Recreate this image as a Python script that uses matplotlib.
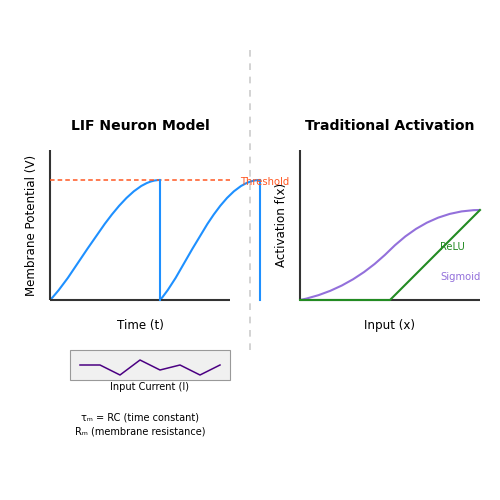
import matplotlib
matplotlib.use("Agg")
import matplotlib.pyplot as plt
from matplotlib.path import Path
from matplotlib.patches import PathPatch, Rectangle

# diagram coordinates (svg-like, y grows downward)
lif_curve1 = [(50, 300), (80, 270), (120, 180), (160, 180)]
lif_curve2 = [(160, 300), (187, 270), (218, 180), (260, 180)]
lif_resets = [(160, 180, 300), (260, 180, 300)]  # x, y_top, y_bottom
threshold_y = 180
threshold_x = [50, 230]

sigmoid_curve = [(300, 300), (350, 290), (390, 250), (430, 210), (480, 210)]
relu_x = [300, 390, 480]
relu_y = [300, 300, 210]

current_x = [80, 100, 120, 140, 160, 180, 200, 220]
current_y = [365, 365, 375, 360, 370, 365, 375, 365]

CUBIC = [Path.MOVETO, Path.CURVE4, Path.CURVE4, Path.CURVE4]
QUAD = [Path.MOVETO, Path.CURVE3, Path.CURVE3, Path.CURVE3, Path.CURVE3]

fig = plt.figure(figsize=(5, 5), dpi=100)
ax = fig.add_axes([0, 0, 1, 1])
ax.set_xlim(0, 500)
ax.set_ylim(500, 0)
ax.axis("off")

axis_col = "#333333"
blue = "#1E90FF"
orange = "#FF5722"
purple = "#9370DB"
green = "#228B22"

# ---- LIF panel
ax.text(140, 126, "LIF Neuron Model", ha="center", va="center", fontsize=10.1, fontweight="bold")
ax.plot([50, 50], [150, 300], color=axis_col, lw=1.5, solid_capstyle="butt")
ax.plot([50, 230], [300, 300], color=axis_col, lw=1.5, solid_capstyle="butt")
ax.plot(threshold_x, [threshold_y] * 2, color=orange, lw=1.1, dashes=(3, 2))
ax.text(240, 182, "Threshold", color=orange, fontsize=7.2, ha="left", va="center")

for pts in (lif_curve1, lif_curve2):
    ax.add_patch(PathPatch(Path(pts, CUBIC), fill=False, edgecolor=blue, lw=1.5))
for x, y0, y1 in lif_resets:
    ax.plot([x, x], [y0, y1], color=blue, lw=1.5)

ax.text(32, 225, "Membrane Potential (V)", rotation=90, ha="center", va="center", fontsize=8.6)
ax.text(140, 326, "Time (t)", ha="center", va="center", fontsize=8.6)

# input current box
ax.add_patch(Rectangle((70, 350), 160, 30, facecolor="#f0f0f0", edgecolor="#999999", lw=0.8))
ax.plot(current_x, current_y, color="#4B0082", lw=1.1)
ax.text(150, 387, "Input Current (I)", ha="center", va="center", fontsize=7.0)
ax.text(140, 417, "τₘ = RC (time constant)", ha="center", va="center", fontsize=7.0)
ax.text(140, 432, "Rₘ (membrane resistance)", ha="center", va="center", fontsize=7.0)

# divider
ax.plot([250, 250], [50, 350], color="#cccccc", lw=1.2, dashes=(4, 4))

# ---- activation panel
ax.text(390, 126, "Traditional Activation", ha="center", va="center", fontsize=10.1, fontweight="bold")
ax.plot([300, 300], [150, 300], color=axis_col, lw=1.5, solid_capstyle="butt")
ax.plot([300, 480], [300, 300], color=axis_col, lw=1.5, solid_capstyle="butt")
ax.add_patch(PathPatch(Path(sigmoid_curve, QUAD), fill=False, edgecolor=purple, lw=1.5))
ax.plot(relu_x, relu_y, color=green, lw=1.5)
ax.text(440, 247, "ReLU", color=green, fontsize=7.2, ha="left", va="center")
ax.text(440, 277, "Sigmoid", color=purple, fontsize=7.2, ha="left", va="center")
ax.text(282, 225, "Activation f(x)", rotation=90, ha="center", va="center", fontsize=8.6)
ax.text(390, 326, "Input (x)", ha="center", va="center", fontsize=8.6)

fig.savefig("out.png", dpi=100)
